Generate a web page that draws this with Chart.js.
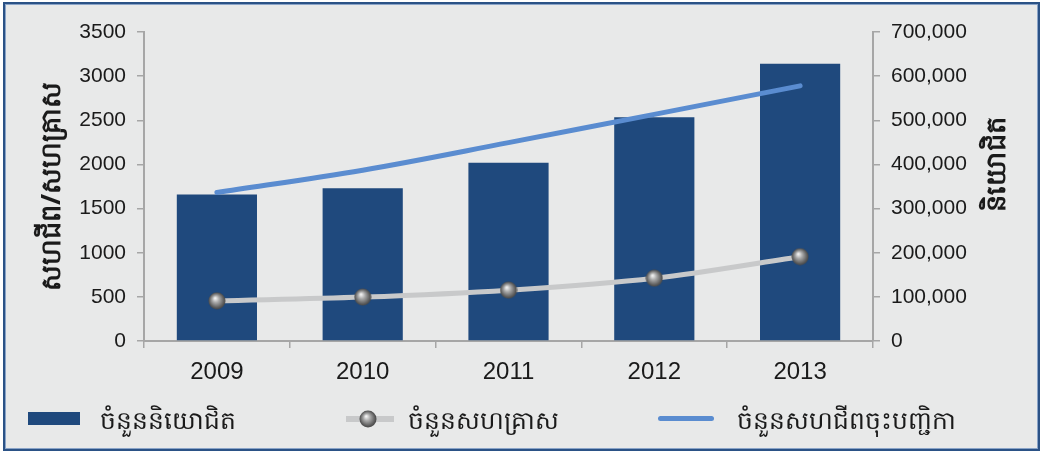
<!DOCTYPE html>
<html lang="km">
<head>
<meta charset="UTF-8">
<title>សហជីព និងសហគ្រាស</title>
<script src="https://cdn.jsdelivr.net/npm/chart.js"></script>
<style>
  html, body { margin: 0; padding: 0; background: #fff; }
  #frame {
    position: absolute; left: 3px; top: 2px;
    width: 1033px; height: 445px;
    background: #e8e9e9;
    border: 2px solid #2b5286;
    box-shadow: inset 0 0 0 1px #8aa4c8;
  }
  #wrap { position: absolute; left: 0; top: 0; width: 1042px; height: 453px; }
  .lg { position: absolute; }
  .lg-text {
    position: absolute; top: 402px; height: 34px; line-height: 34px;
    font-family: "Noto Sans", "DejaVu Sans", sans-serif; font-size: 25px; color: #1a1a1a;
  }
</style>
</head>
<body>
<div id="frame"></div>
<div id="wrap"><canvas id="chart"></canvas></div>

<div class="lg" style="left:28px; top:412px; width:52px; height:13px; background:#1f497d;"></div>
<div class="lg-text" id="lg1" style="left:100px;"></div>

<div class="lg" style="left:346px; top:416px; width:48px; height:6px; background:#c8c9ca;"></div>
<canvas class="lg" id="lgBall" width="18" height="18" style="left:359px; top:410px;"></canvas>
<div class="lg-text" id="lg2" style="left:408px;"></div>

<div class="lg" style="left:658px; top:416px; width:56px; height:5px; border-radius:3px; background:#5a8cd0;"></div>
<div class="lg-text" id="lg3" style="left:737px;"></div>

<script>
// data
const years = ['2009', '2010', '2011', '2012', '2013'];
const employees = [332000, 346000, 404000, 507000, 628000];   // right axis
const enterprises = [455, 497, 576, 711, 955];                // left axis
const unions = [1682, 1935, 2247, 2567, 2890];                // left axis

const seriesNames = ['ចំនួននិយោជិត', 'ចំនួនសហគ្រាស', 'ចំនួនសហជីពចុះបញ្ជិកា'];
const leftTitle = 'សហជីព/សហគ្រាស';
const rightTitle = 'និយោជិត';

const numFont = '"Liberation Sans", Arial, sans-serif';
const khFont = '"Noto Sans", "DejaVu Sans", sans-serif';

// shaded grey ball used as the point marker
function makeBall(cv) {
  const g = cv.getContext('2d');
  const r = cv.width / 2;
  const grad = g.createRadialGradient(r * 0.8, r * 0.7, 0.5, r, r, r);
  grad.addColorStop(0, '#f2f2f2');
  grad.addColorStop(0.35, '#a9a9a9');
  grad.addColorStop(0.8, '#5c5c5c');
  grad.addColorStop(1, '#404040');
  g.fillStyle = grad;
  g.beginPath();
  g.arc(r, r, r - 0.5, 0, Math.PI * 2);
  g.fill();
  return cv;
}
const ball = document.createElement('canvas');
ball.width = 18; ball.height = 18;
makeBall(ball);
makeBall(document.getElementById('lgBall'));

document.getElementById('lg1').textContent = seriesNames[0];
document.getElementById('lg2').textContent = seriesNames[1];
document.getElementById('lg3').textContent = seriesNames[2];

// right axis title reads bottom-to-top like the left one
const rightTitlePlugin = {
  id: 'rightTitle',
  afterDraw(chart) {
    const s = chart.scales.y1;
    const c = chart.ctx;
    c.save();
    c.translate(s.right - 45, chart.chartArea.top + 132);
    c.rotate(-Math.PI / 2);
    c.font = 'bold 27px ' + khFont;
    c.fillStyle = '#1a1a1a';
    c.textAlign = 'center';
    c.textBaseline = 'middle';
    c.fillText(rightTitle, 0, 0);
    c.restore();
  }
};

const axisGrey = '#a6a6a6';

new Chart(document.getElementById('chart'), {
  data: {
    labels: years,
    datasets: [
      {
        type: 'line',
        label: seriesNames[2],
        data: unions,
        yAxisID: 'y',
        borderColor: '#5a8cd0',
        borderWidth: 5,
        borderCapStyle: 'round',
        tension: 0.35,
        pointRadius: 0,
        order: 0
      },
      {
        type: 'line',
        label: seriesNames[1],
        data: enterprises,
        yAxisID: 'y',
        borderColor: '#c8c9ca',
        borderWidth: 5,
        tension: 0.35,
        pointStyle: ball,
        order: 1
      },
      {
        type: 'bar',
        label: seriesNames[0],
        data: employees,
        yAxisID: 'y1',
        backgroundColor: '#1f497d',
        barPercentage: 0.55,
        categoryPercentage: 1,
        order: 2
      }
    ]
  },
  options: {
    responsive: true,
    maintainAspectRatio: false,
    animation: false,
    layout: { padding: { top: 32, left: 0, right: 0, bottom: 0 } },
    plugins: {
      legend: { display: false },
      tooltip: { enabled: false }
    },
    scales: {
      x: {
        grid: { offset: true, drawOnChartArea: false, tickLength: 7, color: axisGrey, lineWidth: 1.5 },
        border: { color: axisGrey, width: 2 },
        ticks: { font: { size: 24, family: numFont }, color: '#1a1a1a', padding: 10 },
        afterFit: s => { s.height = 112; }
      },
      y: {
        position: 'left',
        min: 0, max: 3500,
        ticks: {
          stepSize: 500, font: { size: 21, family: numFont }, color: '#1a1a1a', padding: 11,
          callback: v => String(v)
        },
        grid: { drawOnChartArea: false, tickLength: 7, color: axisGrey, lineWidth: 1.5 },
        border: { color: axisGrey, width: 2 },
        title: { display: true, text: leftTitle, font: { size: 27, weight: 'bold', family: khFont }, color: '#1a1a1a', padding: { top: 36, bottom: 0 } },
        afterFit: s => { s.width = 144; }
      },
      y1: {
        position: 'right',
        min: 0, max: 700000,
        ticks: {
          stepSize: 100000, font: { size: 21, family: numFont }, color: '#1a1a1a', padding: 11,
          callback: v => v.toLocaleString('en-US')
        },
        grid: { drawOnChartArea: false, tickLength: 7, color: axisGrey, lineWidth: 1.5 },
        border: { color: axisGrey, width: 2 },
        afterFit: s => { s.width = 169; }
      }
    }
  },
  plugins: [rightTitlePlugin]
});
</script>
</body>
</html>
